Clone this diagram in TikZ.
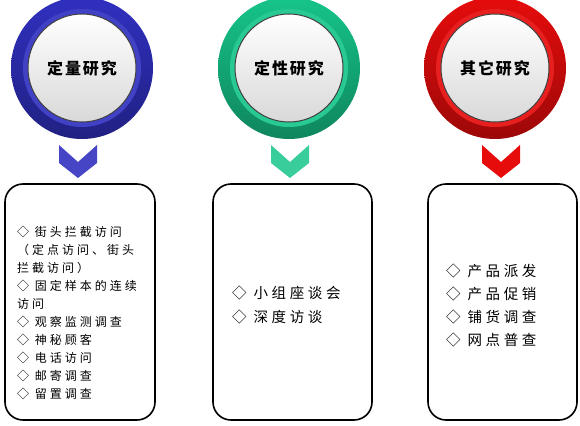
\documentclass[tikz,border=0pt]{standalone}
\usepackage{fontspec}
\setmainfont{Noto Sans CJK SC}
\newfontfamily\titlefont[LetterSpace=12]{Noto Sans CJK SC}
\newfontfamily\itemfont[LetterSpace=25]{Noto Sans CJK SC}
\usetikzlibrary{positioning}
\definecolor{quantblue}{HTML}{3030C0}
\definecolor{qualgreen}{HTML}{16C48A}
\definecolor{otherred}{HTML}{E60C0C}

\begin{document}
\begin{tikzpicture}[x=1pt, y=-1pt,
      ring/.style={circle, minimum size=142pt, inner sep=0pt, shading angle=135,
                   top color=#1, bottom color=#1!68!black},
      band/.style={circle, minimum size=118pt, inner sep=0pt, fill=#1!92!white},
      disk/.style={circle, minimum size=108pt, inner sep=0pt, draw=black!75, line width=1pt,
                   top color=white, bottom color=black!15,
                   font=\titlefont\bfseries\fontsize{16}{18}\selectfont},
      card/.style={draw, line width=1.6pt, rounded corners=18pt, minimum height=236pt},
      item/.style={anchor=west, align=left, inner sep=0pt}
    ]
      \useasboundingbox (0,0) rectangle (580,425);
      % circles
      \node[ring=quantblue] (quant) at (82,68) {};
      \node[band=quantblue] at (quant) {};
      \node[disk] (quantdisk) at (quant) {定量研究};
      \node[ring=qualgreen] (qual) at (289,68) {};
      \node[band=qualgreen] at (qual) {};
      \node[disk] (qualdisk) at (qual) {定性研究};
      \node[ring=otherred] (other) at (495,68) {};
      \node[band=otherred] at (other) {};
      \node[disk] (otherdisk) at (other) {其它研究};
      % chevrons
      \coordinate (quantarrow) at (78,145);
      \coordinate (qualarrow) at (290,145);
      \coordinate (otherarrow) at (501,145);
      \foreach \c/\col in {quantarrow/quantblue!90!white, qualarrow/qualgreen!85!white, otherarrow/otherred}
        \fill[\col] (\c) ++(-19,0) -- ++(19,17) -- ++(19,-17) -- ++(0,18) -- ++(-19,15)
          -- ++(-19,-15) -- cycle;
      % cards
      \node[card, minimum width=150pt] (quantcard) at (80,302) {};
      \node[card, minimum width=159pt] (qualcard) at (292.5,302) {};
      \node[card, minimum width=149pt] (othercard) at (502.5,302) {};
      \node[item, font=\itemfont\fontsize{12}{18}\selectfont] (quantlist) at (17,312.5)
        {◇ 街头拦截访问\\（定点访问、街头\\拦截访问）\\◇ 固定样本的连续\\访问\\◇ 观察监测调查\\
         ◇ 神秘顾客\\◇ 电话访问\\◇ 邮寄调查\\◇ 留置调查};
      \node[item, font=\itemfont\fontsize{14.5}{24}\selectfont] (quallist) at (232,305)
        {◇ 小组座谈会\\◇ 深度访谈};
      \node[item, font=\itemfont\fontsize{14.5}{23}\selectfont] (otherlist) at (446,305)
        {◇ 产品派发\\◇ 产品促销\\◇ 铺货调查\\◇ 网点普查};
    \end{tikzpicture}
\end{document}
